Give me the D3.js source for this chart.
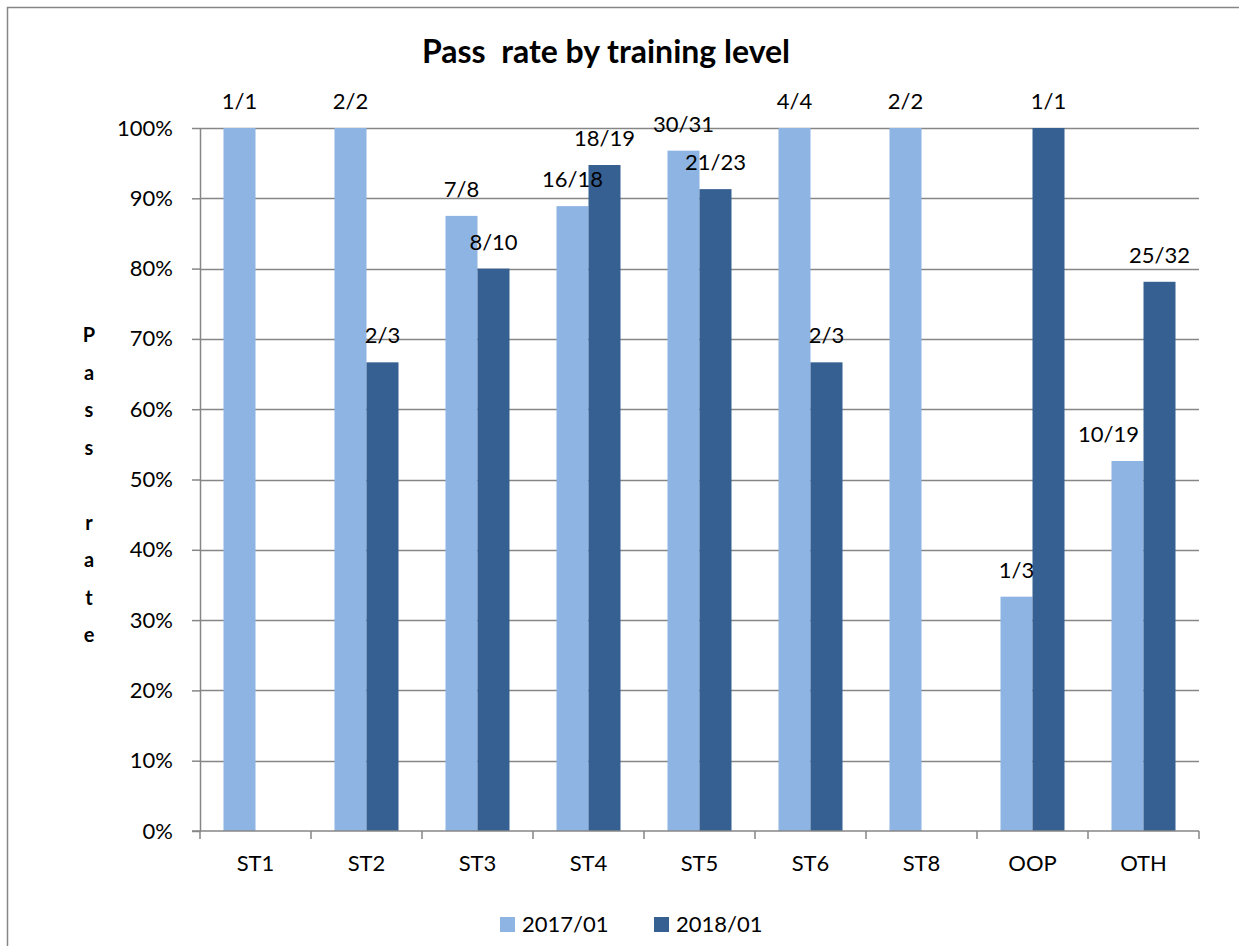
<!DOCTYPE html>
<meta charset="utf-8">
<script src="https://cdn.jsdelivr.net/npm/d3@7"></script>
<style>
body { margin: 0; background: #fff; }
text { font-family: Lato, "Open Sans", sans-serif; fill: #000; }
.grid line { stroke: #868686; stroke-width: 1.5; }
.axis path, .axis line { stroke: #868686; stroke-width: 1.5; }
.axis text { font-size: 22px; }
.lbl { font-size: 22px; }
</style>
<body>
<script>

// chart data
var levels = ["ST1", "ST2", "ST3", "ST4", "ST5", "ST6", "ST8", "OOP", "OTH"];
var seriesNames = ["2017/01", "2018/01"];
var passed2017 = [1, 2, 7, 16, 30, 4, 2, 1, 10];
var total2017  = [1, 2, 8, 18, 31, 4, 2, 3, 19];
var passed2018 = [null, 2, 8, 18, 21, 2, null, 1, 25];
var total2018  = [null, 3, 10, 19, 23, 3, null, 1, 32];
var yTicks = [0, 0.1, 0.2, 0.3, 0.4, 0.5, 0.6, 0.7, 0.8, 0.9, 1];
var colors = ["#8EB4E3", "#376092"];

// label that Excel pushed sideways to dodge the neighbour bar
var labelNudge = { "OTH|2017/01": -19 };

var width = 1239, height = 946;
var svg = d3.select("body").append("svg")
    .attr("width", width)
    .attr("height", height);

// chart border
svg.append("rect")
    .attr("x", 7.5).attr("y", 7.5)
    .attr("width", 1250).attr("height", 960)
    .attr("fill", "none")
    .attr("stroke", "#868686")
    .attr("stroke-width", 1.5);

var pLeft = 200, pRight = 1199, pTop = 128, pBottom = 831;

var x = d3.scaleBand().domain(levels).range([pLeft, pRight]);
var xs = d3.scaleBand().domain(seriesNames).range([0, x.bandwidth()]).paddingOuter(0.734);
var y = d3.scaleLinear().domain([0, 1]).range([pBottom, pTop]);

var rows = [];
levels.forEach(function(l, i) {
  rows.push({ level: l, series: seriesNames[0], p: passed2017[i], t: total2017[i] });
  rows.push({ level: l, series: seriesNames[1], p: passed2018[i], t: total2018[i] });
});
rows = rows.filter(function(d) { return d.t != null; });

// gridlines
svg.append("g").attr("class", "grid")
  .selectAll("line")
  .data(yTicks.slice(1))
  .enter().append("line")
  .attr("x1", pLeft).attr("x2", pRight)
  .attr("y1", function(d) { return Math.round(y(d)) + 0.5; })
  .attr("y2", function(d) { return Math.round(y(d)) + 0.5; });

// bars
svg.append("g").selectAll("rect")
  .data(rows)
  .enter().append("rect")
  .attr("x", function(d) { return x(d.level) + xs(d.series); })
  .attr("y", function(d) { return y(d.p / d.t); })
  .attr("width", xs.bandwidth())
  .attr("height", function(d) { return y(0) - y(d.p / d.t); })
  .attr("fill", function(d) { return colors[seriesNames.indexOf(d.series)]; });

// y axis
svg.append("g").attr("class", "axis")
  .attr("transform", "translate(" + pLeft + ",0)")
  .call(d3.axisLeft(y).tickValues(yTicks).tickFormat(d3.format(".0%")).tickSize(8).tickSizeOuter(0).tickPadding(19));

// x axis
var xAxis = svg.append("g").attr("class", "axis")
  .attr("transform", "translate(0," + pBottom + ")")
  .call(d3.axisBottom(x).tickSize(0).tickPadding(24));
xAxis.select(".domain").remove();
xAxis.append("line")
  .attr("x1", pLeft - 8).attr("x2", pRight);
xAxis.selectAll(".sep")
  .data(levels.map(function(l) { return x(l); }).concat([pRight]))
  .enter().append("line")
  .attr("x1", function(d) { return d; }).attr("x2", function(d) { return d; })
  .attr("y1", 0).attr("y2", 8);

// data labels
svg.append("g").selectAll("text")
  .data(rows)
  .enter().append("text")
  .attr("class", "lbl")
  .attr("text-anchor", "middle")
  .attr("x", function(d) {
    return x(d.level) + xs(d.series) + xs.bandwidth() / 2 + (labelNudge[d.level + "|" + d.series] || 0);
  })
  .attr("y", function(d) { return y(d.p / d.t) - 19; })
  .text(function(d) { return d.p + "/" + d.t; });

// title
svg.append("text")
  .attr("x", 606).attr("y", 63)
  .attr("text-anchor", "middle")
  .style("font-size", "32px")
  .style("font-weight", "bold")
  .style("white-space", "pre")
  .text("Pass  rate by training level");

// vertical y label, one letter per line
var ylab = "Pass rate".split("");
svg.append("g").selectAll("text")
  .data(ylab)
  .enter().append("text")
  .attr("x", 89)
  .attr("y", function(d, i) { return 342 + i * 37.5; })
  .attr("text-anchor", "middle")
  .style("font-size", "20px")
  .style("font-weight", "bold")
  .text(function(d) { return d; });

// legend
var leg = svg.append("g");
var legX = [500, 654];
seriesNames.forEach(function(s, i) {
  leg.append("rect")
    .attr("x", legX[i]).attr("y", 917)
    .attr("width", 15).attr("height", 15)
    .attr("fill", colors[i]);
  leg.append("text")
    .attr("x", legX[i] + 22).attr("y", 932)
    .style("font-size", "22px")
    .text(s);
});

</script>
</body>
</html>
